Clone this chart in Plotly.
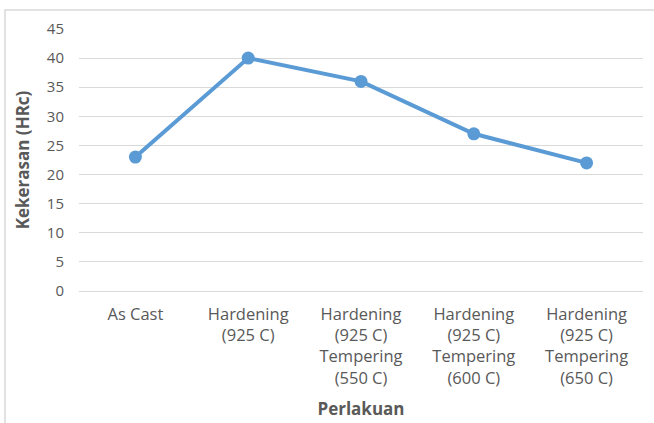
import plotly.graph_objects as go

categories = [
    "As Cast",
    "Hardening<br>(925 C)",
    "Hardening<br>(925 C)<br>Tempering<br>(550 C)",
    "Hardening<br>(925 C)<br>Tempering<br>(600 C)",
    "Hardening<br>(925 C)<br>Tempering<br>(650 C)",
]
hardness = [23, 40, 36, 27, 22]
y_ticks = [0, 5, 10, 15, 20, 25, 30, 35, 40, 45]

fig = go.Figure()
fig.add_trace(go.Scatter(
    x=categories, y=hardness, mode="lines+markers",
    line=dict(color="#5B9BD5", width=4),
    marker=dict(color="#5B9BD5", size=13),
    showlegend=False,
))

L, R, T, B = 79, 11, 29, 132
W, H = 654, 423
pw, ph = W - L - R, H - T - B

fig.update_layout(
    width=W, height=H,
    margin=dict(l=L, r=R, t=T, b=B, autoexpand=False),
    paper_bgcolor="white", plot_bgcolor="white",
    font=dict(family="Open Sans", color="#595959", size=15),
    xaxis=dict(
        title=dict(text="<b>Perlakuan</b>", font=dict(size=17, color="#595959"), standoff=15),
        range=[-0.5, 4.5], automargin=False,
        showgrid=False, showline=False, ticks="", tickangle=0,
        tickfont=dict(size=16.5, color="#595959"),
        ticklabelstandoff=11,
    ),
    yaxis=dict(
        title=dict(text="<b>Kekerasan (HRc)</b>", font=dict(size=17, color="#595959"), standoff=12),
        range=[0, 45], tickvals=y_ticks, automargin=False,
        showgrid=True, gridcolor="#d9d9d9", gridwidth=1,
        zeroline=True, zerolinecolor="#d9d9d9", zerolinewidth=1,
        showline=False, ticks="",
        tickfont=dict(size=15, color="#595959"),
        ticklabelstandoff=14,
    ),
    shapes=[dict(
        type="rect", xref="paper", yref="paper",
        x0=(5 - L) / pw, x1=(W + 20 - L) / pw,
        y0=-(H + 20 - T - ph) / ph, y1=(H - B - 10) / ph,
        line=dict(color="#d9d9d9", width=1.5), fillcolor="rgba(0,0,0,0)", layer="below",
    )],
)

fig.write_html("out.html")
